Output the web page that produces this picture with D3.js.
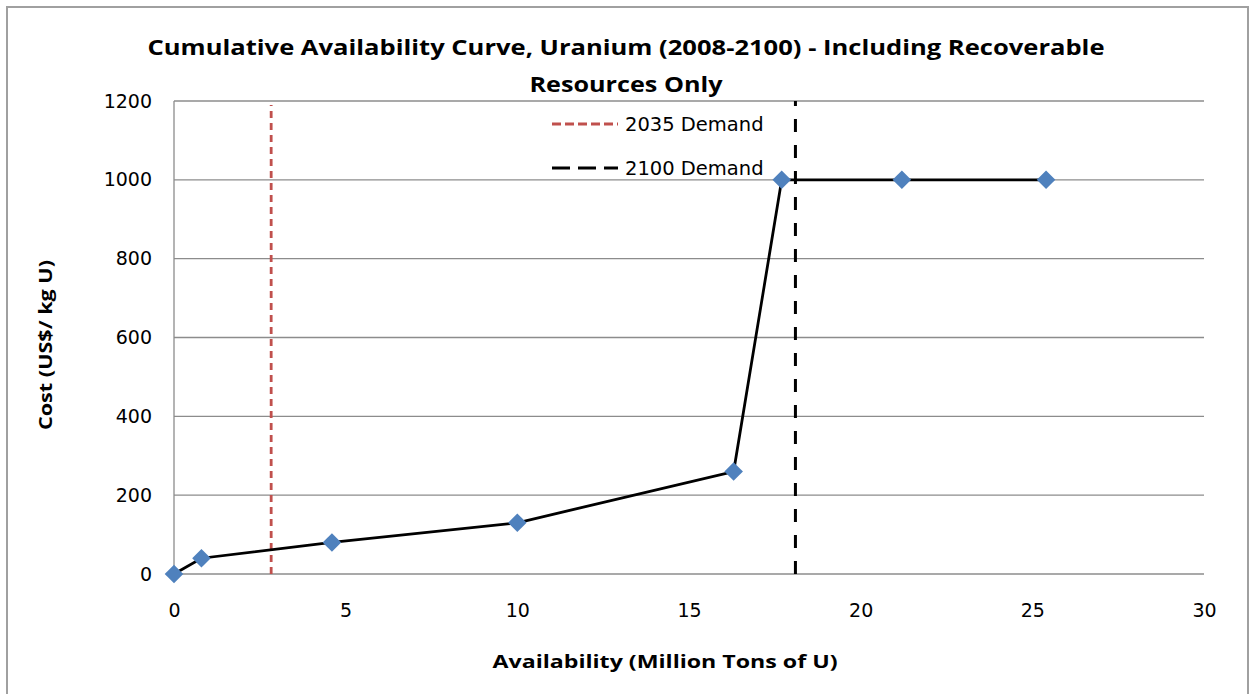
<!DOCTYPE html>
<html><head><meta charset="utf-8">
<script src="https://cdn.jsdelivr.net/npm/d3@7"></script>
<style>body{margin:0;background:#fff;}svg{display:block;}</style>
</head><body>
<svg id="c" width="1251" height="694"></svg>
<script>
const availability = [0, 0.8, 4.6, 10, 16.3, 17.7, 21.2, 25.4];
const cost = [0, 40, 80, 130, 260, 1000, 1000, 1000];
const demandLabels = ["2035 Demand", "2100 Demand"];
const demandValues = [2.83, 18.1];
const xTicks = [0, 5, 10, 15, 20, 25, 30];
const yTicks = [0, 200, 400, 600, 800, 1000, 1200];
const titleLines = ["Cumulative Availability Curve, Uranium (2008-2100) - Including Recoverable", "Resources Only"];

const svg = d3.select("#c");
const W = 1251, H = 694;
const m = {left:174, right:1204, top:101, bottom:574};
const x = d3.scaleLinear().domain([0,30]).range([m.left, m.right]);
const y = d3.scaleLinear().domain([0,1200]).range([m.bottom, m.top]);

svg.append("rect").attr("x",0).attr("y",0).attr("width",W).attr("height",H).attr("fill","#fff");
svg.append("rect").attr("x",7).attr("y",7).attr("width",1241).attr("height",700)
  .attr("fill","none").attr("stroke","#a0a0a0").attr("stroke-width",2);

// gridlines
svg.append("g").selectAll("line").data(yTicks).join("line")
  .attr("x1",m.left).attr("x2",m.right).attr("y1",d=>y(d)).attr("y2",d=>y(d))
  .attr("stroke","#8c8c8c").attr("stroke-width",1.3);
svg.append("line").attr("x1",m.left).attr("x2",m.left).attr("y1",m.top).attr("y2",m.bottom)
  .attr("stroke","#8c8c8c").attr("stroke-width",1.3);

const tickFont = "'DejaVu Sans', Verdana, sans-serif";
// y ticks
const yAxis = d3.axisLeft(y).tickValues(yTicks).tickFormat(d3.format("d")).tickSize(0).tickPadding(22);
const gy = svg.append("g").attr("transform",`translate(${m.left},0)`).call(yAxis);
gy.select(".domain").remove();
gy.selectAll("text").attr("font-family",tickFont).attr("font-size",19).attr("fill","#000");
// x ticks
const xAxis = d3.axisBottom(x).tickValues(xTicks).tickFormat(d3.format("d")).tickSize(0).tickPadding(30);
const gx = svg.append("g").attr("transform",`translate(0,${m.bottom})`).call(xAxis);
gx.select(".domain").remove();
gx.selectAll("text").attr("font-family",tickFont).attr("font-size",19).attr("fill","#000");

// demand lines
const demandColors = ["#c0504d", "#000"];
const demandDash = ["7,5", "13,13"];
demandValues.forEach((v,i)=>{
  svg.append("line").attr("x1",x(v)).attr("x2",x(v)).attr("y1",m.bottom).attr("y2",m.top + (i===0?4:0))
    .attr("stroke",demandColors[i]).attr("stroke-width",i===0?2.8:3).attr("stroke-dasharray",demandDash[i]);
});

// curve
const pts = availability.map((a,i)=>[a,cost[i]]);
svg.append("path").datum(pts)
  .attr("d", d3.line().x(d=>x(d[0])).y(d=>y(d[1])))
  .attr("fill","none").attr("stroke","#000").attr("stroke-width",2.8);
svg.append("g").selectAll("path").data(pts).join("path")
  .attr("transform",d=>`translate(${x(d[0])},${y(d[1])})`)
  .attr("d", d3.symbol().type(d3.symbolDiamond2).size(220))
  .attr("fill","#4f81bd");

// legend
const legendDash = ["9,4", "18,8"];
demandLabels.forEach((t,i)=>{
  const ly = 124 + i*44;
  svg.append("line").attr("x1",552).attr("x2",618).attr("y1",ly).attr("y2",ly)
    .attr("stroke",demandColors[i]).attr("stroke-width",i===0?2.8:3).attr("stroke-dasharray",legendDash[i]);
  svg.append("text").attr("x",625).attr("y",ly).attr("dy","0.35em")
    .attr("font-family",tickFont).attr("font-size",19.5).attr("fill","#000").text(t);
});

// title
const titleFont = "'Open Sans', sans-serif";
const titleWidths = [957, 193];
titleLines.forEach((t,i)=>{
  svg.append("text").attr("x",626).attr("y",55+i*37).attr("text-anchor","middle")
    .attr("font-family",titleFont).attr("font-weight","bold").attr("font-size",21.5)
    .attr("textLength",titleWidths[i]).attr("lengthAdjust","spacingAndGlyphs")
    .attr("fill","#000").text(t);
});
svg.append("text").attr("x",665).attr("y",668).attr("text-anchor","middle")
  .attr("font-family",titleFont).attr("font-weight","bold").attr("font-size",18.5)
  .attr("textLength",345).attr("lengthAdjust","spacingAndGlyphs")
  .attr("fill","#000").text("Availability (Million Tons of U)");
svg.append("text").attr("transform","translate(52,345) rotate(-90)").attr("text-anchor","middle")
  .attr("font-family",titleFont).attr("font-weight","bold").attr("font-size",18.5)
  .attr("textLength",170).attr("lengthAdjust","spacingAndGlyphs")
  .attr("fill","#000").text("Cost (US$/ kg U)");
</script>
</body></html>
